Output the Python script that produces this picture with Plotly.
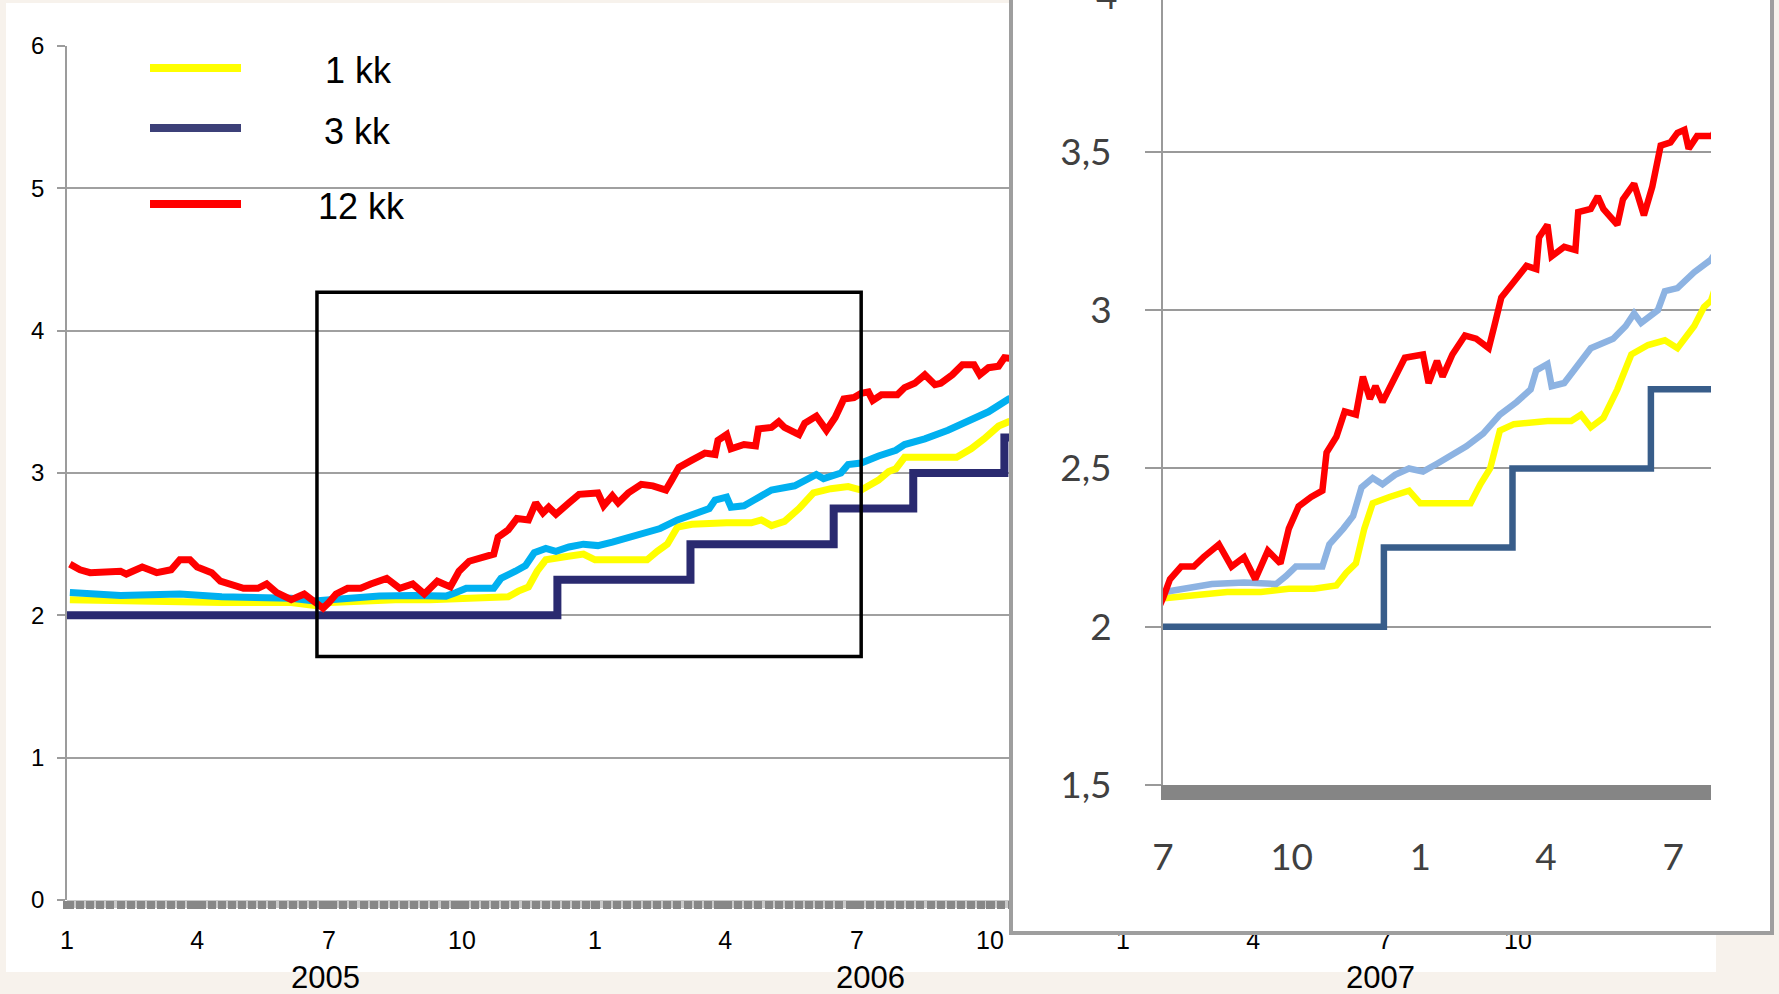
import plotly.graph_objects as go

W, H = 1779, 994

# ---------------- data ----------------
# 12 kk (red)
red_dates = ["2005-01-03", "2005-01-10", "2005-01-17", "2005-01-26", "2005-02-07", "2005-02-11",
             "2005-02-22", "2005-03-04", "2005-03-14", "2005-03-20", "2005-03-27", "2005-04-01",
             "2005-04-11", "2005-04-17", "2005-04-27", "2005-05-03", "2005-05-13", "2005-05-19",
             "2005-05-26", "2005-06-05", "2005-06-14", "2005-06-20", "2005-06-27", "2005-07-01",
             "2005-07-06", "2005-07-14", "2005-07-23", "2005-07-30", "2005-08-10", "2005-08-19",
             "2005-08-28", "2005-09-05", "2005-09-14", "2005-09-23", "2005-09-29", "2005-10-06",
             "2005-10-15", "2005-10-23", "2005-10-26", "2005-11-02", "2005-11-08", "2005-11-16",
             "2005-11-21", "2005-11-26", "2005-11-30", "2005-12-05", "2005-12-14", "2005-12-21",
             "2006-01-03", "2006-01-07", "2006-01-13", "2006-01-17", "2006-01-24", "2006-02-02",
             "2006-02-10", "2006-02-19", "2006-02-23", "2006-02-28", "2006-03-09", "2006-03-18",
             "2006-03-25", "2006-03-27", "2006-04-02", "2006-04-05", "2006-04-14", "2006-04-22",
             "2006-04-24", "2006-05-03", "2006-05-08", "2006-05-12", "2006-05-22", "2006-05-26",
             "2006-06-03", "2006-06-10", "2006-06-16", "2006-06-22", "2006-06-29", "2006-07-04",
             "2006-07-09", "2006-07-12", "2006-07-18", "2006-07-29", "2006-08-03", "2006-08-10",
             "2006-08-17", "2006-08-24", "2006-08-28", "2006-09-05", "2006-09-12", "2006-09-20",
             "2006-09-24", "2006-09-30", "2006-10-07", "2006-10-11", "2006-10-20"]
red_vals = [2.36, 2.32, 2.30, 2.30, 2.31, 2.29,
            2.34, 2.30, 2.32, 2.39, 2.39, 2.34,
            2.30, 2.24, 2.21, 2.19, 2.19, 2.22,
            2.16, 2.11, 2.15, 2.10, 2.05, 2.09,
            2.15, 2.19, 2.19, 2.22, 2.26, 2.19,
            2.22, 2.15, 2.24, 2.20, 2.31, 2.38,
            2.41, 2.43, 2.55, 2.60, 2.68, 2.67,
            2.79, 2.72, 2.76, 2.71, 2.79, 2.85,
            2.86, 2.77, 2.84, 2.79, 2.86, 2.92,
            2.91, 2.88, 2.95, 3.04, 3.09, 3.14,
            3.13, 3.23, 3.27, 3.17, 3.20, 3.19,
            3.31, 3.32, 3.36, 3.32, 3.27, 3.35,
            3.40, 3.30, 3.39, 3.52, 3.53, 3.56,
            3.57, 3.51, 3.55, 3.55, 3.60, 3.63,
            3.69, 3.62, 3.63, 3.69, 3.76, 3.76,
            3.69, 3.74, 3.75, 3.81, 3.80]

# unlabelled light-blue series
blue_dates = ["2005-01-03", "2005-02-07", "2005-03-20", "2005-04-18", "2005-06-05", "2005-06-21",
              "2005-07-02", "2005-07-14", "2005-08-05", "2005-08-28", "2005-09-20", "2005-09-27",
              "2005-10-04", "2005-10-23", "2005-10-28", "2005-11-07", "2005-11-14", "2005-11-20",
              "2005-11-28", "2005-12-05", "2005-12-14", "2005-12-24", "2006-01-03", "2006-01-13",
              "2006-01-22", "2006-02-03", "2006-02-15", "2006-02-27", "2006-03-11", "2006-03-21",
              "2006-03-25", "2006-04-02", "2006-04-05", "2006-04-14", "2006-04-21", "2006-05-03",
              "2006-05-19", "2006-05-28", "2006-06-03", "2006-06-08", "2006-06-20", "2006-06-25",
              "2006-07-04", "2006-07-16", "2006-07-28", "2006-08-03", "2006-08-17", "2006-09-02",
              "2006-09-18", "2006-09-30", "2006-10-14", "2006-10-20"]
blue_vals = [2.16, 2.14, 2.15, 2.13, 2.12, 2.10,
             2.11, 2.12, 2.135, 2.14, 2.135, 2.16,
             2.19, 2.19, 2.26, 2.31, 2.35, 2.44,
             2.47, 2.45, 2.48, 2.50, 2.49, 2.515,
             2.54, 2.57, 2.61, 2.67, 2.71, 2.75,
             2.81, 2.83, 2.76, 2.77, 2.81, 2.88,
             2.91, 2.95, 2.99, 2.96, 3.00, 3.06,
             3.07, 3.12, 3.16, 3.20, 3.24, 3.30,
             3.37, 3.43, 3.52, 3.54]

# 1 kk (yellow)
yel_dates = ["2005-01-03", "2005-02-07", "2005-03-20", "2005-04-18", "2005-06-05", "2005-06-21",
             "2005-07-02", "2005-07-23", "2005-08-16", "2005-09-09", "2005-09-29", "2005-10-17",
             "2005-11-02", "2005-11-09", "2005-11-16", "2005-11-22", "2005-11-28", "2005-12-10",
             "2005-12-24", "2006-01-01", "2006-01-13", "2006-02-06", "2006-02-13", "2006-02-20",
             "2006-02-27", "2006-03-09", "2006-04-02", "2006-04-19", "2006-04-26", "2006-05-03",
             "2006-05-12", "2006-05-22", "2006-06-01", "2006-06-13", "2006-06-25", "2006-07-04",
             "2006-07-16", "2006-07-23", "2006-07-28", "2006-08-03", "2006-09-08", "2006-09-18",
             "2006-09-27", "2006-10-07", "2006-10-14", "2006-10-20"]
yel_vals = [2.11, 2.10, 2.10, 2.09, 2.09, 2.07,
            2.09, 2.10, 2.11, 2.11, 2.12, 2.12,
            2.13, 2.17, 2.20, 2.31, 2.39, 2.41,
            2.43, 2.39, 2.39, 2.39, 2.45, 2.50,
            2.62, 2.64, 2.65, 2.65, 2.67, 2.63,
            2.66, 2.75, 2.86, 2.89, 2.905, 2.88,
            2.95, 3.01, 3.03, 3.11, 3.11, 3.17,
            3.24, 3.33, 3.36, 3.37]

# 3 kk (step line)
step_dates = ["2005-01-01", "2005-12-06", "2006-03-08", "2006-06-15", "2006-08-09", "2006-10-11", "2006-10-25"]
step_vals = [2.0, 2.25, 2.5, 2.75, 3.0, 3.25, 3.25]

# axis texts
main_tickvals = ["2005-01-01", "2005-04-01", "2005-07-01", "2005-10-01",
                 "2006-01-01", "2006-04-01", "2006-07-01", "2006-10-01",
                 "2007-01-01", "2007-04-01", "2007-07-01", "2007-10-01"]
main_ticktext = ["1", "4", "7", "10"] * 3
main_yticks = [0, 1, 2, 3, 4, 5, 6]
year_labels = ["2005", "2006", "2007"]
year_px = [325, 870, 1380]

inset_tickvals = ["2005-07-01", "2005-10-01", "2006-01-01", "2006-04-01", "2006-07-01"]
inset_ticktext = ["7", "10", "1", "4", "7"]
inset_yticks = [1.5, 2.0, 2.5, 3.0, 3.5]
inset_yticktext = ["1,5", "2", "2,5", "3", "3,5"]

legend_names = ["1 kk", "3 kk", "12 kk"]
legend_colors = ["#FFFF00", "#3C4078", "#FF0000"]
legend_y = [68, 128, 204]

# ---------------- styling ----------------
ARIAL = "Liberation Sans, Arial, sans-serif"
CALIBRI = "Lato, Carlito, Calibri, sans-serif"
BEIGE = "#F7F2EC"


def px(x):
    return x / W


def py(y):
    return 1 - y / H


fig = go.Figure()

# main chart traces
fig.add_trace(go.Scatter(x=step_dates, y=step_vals, mode="lines", line=dict(color="#2A2A70", width=8, shape="hv"),
                         name="3 kk", xaxis="x", yaxis="y", showlegend=False))
fig.add_trace(go.Scatter(x=yel_dates, y=yel_vals, mode="lines", line=dict(color="#FFFF00", width=7),
                         name="1 kk", xaxis="x", yaxis="y", showlegend=False))
fig.add_trace(go.Scatter(x=blue_dates, y=blue_vals, mode="lines", line=dict(color="#00B0F0", width=7),
                         name="", xaxis="x", yaxis="y", showlegend=False))
fig.add_trace(go.Scatter(x=red_dates, y=red_vals, mode="lines", line=dict(color="#FF0000", width=7),
                         name="12 kk", xaxis="x", yaxis="y", showlegend=False))

# overlay layer that carries the inset's white panel
fig.add_trace(go.Scatter(x=[None], y=[None], xaxis="x2", yaxis="y2", showlegend=False, hoverinfo="skip"))

# inset traces
fig.add_trace(go.Scatter(x=step_dates, y=step_vals, mode="lines", line=dict(color="#385D8A", width=6.5, shape="hv"),
                         name="3 kk", xaxis="x3", yaxis="y3", showlegend=False))
fig.add_trace(go.Scatter(x=yel_dates, y=yel_vals, mode="lines", line=dict(color="#FFFF00", width=6.5),
                         name="1 kk", xaxis="x3", yaxis="y3", showlegend=False))
fig.add_trace(go.Scatter(x=blue_dates, y=blue_vals, mode="lines", line=dict(color="#8DB3E2", width=6.5),
                         name="", xaxis="x3", yaxis="y3", showlegend=False))
fig.add_trace(go.Scatter(x=red_dates, y=red_vals, mode="lines", line=dict(color="#FF0000", width=6.5),
                         name="12 kk", xaxis="x3", yaxis="y3", showlegend=False))

shapes = [
    # white chart area of the main chart
    dict(type="rect", xref="paper", yref="paper", x0=px(6), x1=px(1716), y0=py(972), y1=py(3),
         fillcolor="white", line=dict(width=0), layer="below"),
    # light band behind the weekly tick marks of the main x axis
    dict(type="rect", xref="paper", yref="paper", x0=px(67), x1=px(1651), y0=py(908), y1=py(900),
         fillcolor="#C9C9C9", line=dict(width=0), layer="below"),
    # inset panel (on the overlay axes so it covers the main chart)
    dict(type="rect", xref="x2", yref="y2", x0=1011, x1=1772, y0=-20, y1=933,
         fillcolor="white", line=dict(color="#9E9E9E", width=4), layer="below"),
    # highlight box on the main chart
    dict(type="rect", xref="x", yref="y", x0="2005-06-22 19:00", x1="2006-07-04", y0=1.71, y1=4.27,
         line=dict(color="black", width=3.5), fillcolor="rgba(0,0,0,0)", layer="above"),
]
annotations = []
for name, col, yy in zip(legend_names, legend_colors, legend_y):
    shapes.append(dict(type="line", xref="paper", yref="paper", x0=px(150), x1=px(241), y0=py(yy), y1=py(yy),
                       line=dict(color=col, width=8), layer="above"))
legend_text_x = [323, 322, 316]
legend_text_y = [70, 131, 207]
for name, tx, ty in zip(legend_names, legend_text_x, legend_text_y):
    annotations.append(dict(text=name, xref="paper", yref="paper", x=px(tx), y=py(ty), xanchor="left",
                            yanchor="middle", showarrow=False, font=dict(family=ARIAL, size=36, color="black")))
for yr, xx in zip(year_labels, year_px):
    annotations.append(dict(text=yr, xref="paper", yref="paper", x=px(xx), y=py(977), xanchor="center",
                            yanchor="middle", showarrow=False, font=dict(family=ARIAL, size=31, color="black")))
# partially visible top label of the inset axis
annotations.append(dict(text="4", xref="paper", yref="paper", x=px(1119), y=py(-5), xanchor="right",
                        yanchor="middle", showarrow=False, font=dict(family=CALIBRI, size=37, color="#404040")))

fig.update_layout(
    width=W, height=H, autosize=False,
    margin=dict(l=0, r=0, t=0, b=0, pad=0, autoexpand=False),
    paper_bgcolor=BEIGE, plot_bgcolor="rgba(0,0,0,0)",
    showlegend=False,
    xaxis=dict(domain=[px(67), px(1651)], range=["2005-01-01", "2008-01-01"], type="date", anchor="y",
               tickmode="array", tickvals=main_tickvals, ticktext=main_ticktext,
               ticks="outside", ticklen=8, tickwidth=8, tickcolor="#878787",
               minor=dict(ticks="outside", ticklen=8, tickwidth=8, tickcolor="#878787",
                          dtick=7 * 86400000, tick0="2005-01-03", showgrid=False),
               showgrid=False, showline=False, zeroline=False, ticklabelstandoff=10, automargin=False,
               tickfont=dict(family=ARIAL, size=25, color="black"), fixedrange=True),
    yaxis=dict(domain=[py(900), py(46)], range=[0, 6], anchor="x", tickmode="array", tickvals=main_yticks,
               ticks="outside", ticklen=8, tickwidth=1.5, tickcolor="#9C9C9C",
               showgrid=True, gridcolor="#A0A0A0", gridwidth=1.5, automargin=False,
               showline=True, linecolor="#9C9C9C", linewidth=1.5, zeroline=False, ticklabelstandoff=8,
               tickfont=dict(family=ARIAL, size=24, color="black"), fixedrange=True),
    xaxis2=dict(domain=[0, 1], range=[0, W], anchor="y2", visible=False, fixedrange=True, automargin=False),
    yaxis2=dict(domain=[0, 1], range=[H, 0], anchor="x2", visible=False, fixedrange=True, automargin=False),
    xaxis3=dict(domain=[px(1163), px(1711)], range=["2005-07-01", "2006-07-28"], type="date", anchor="y3",
                tickmode="array", tickvals=inset_tickvals, ticktext=inset_ticktext, ticks="",
                showline=True, linecolor="#858585", linewidth=15, showgrid=False, zeroline=False,
                automargin=False, ticklabelstandoff=26,
                tickfont=dict(family=CALIBRI, size=37, color="#404040"), fixedrange=True),
    yaxis3=dict(domain=[py(785), 1.0], range=[1.5, 3.98], anchor="x3", tickmode="array",
                tickvals=inset_yticks, ticktext=inset_yticktext,
                ticks="outside", ticklen=16, tickwidth=2, tickcolor="#9A9A9A",
                showline=True, linecolor="#9A9A9A", linewidth=2, automargin=False,
                showgrid=True, gridcolor="#9A9A9A", gridwidth=2, zeroline=False, ticklabelstandoff=26,
                tickfont=dict(family=CALIBRI, size=37, color="#404040"), fixedrange=True),
    shapes=shapes,
    annotations=annotations,
)

fig.write_html("out.html", config={"displayModeBar": False},
               post_script="document.body.style.margin='0';document.body.style.overflow='hidden';")
